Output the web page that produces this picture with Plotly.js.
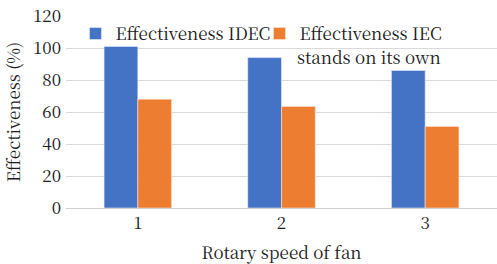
<!DOCTYPE html>
<html>
<head>
<meta charset="utf-8">
<script src="https://cdn.plot.ly/plotly-3.0.1.min.js"></script>
<style>html,body{margin:0;padding:0;background:#fff;}#chart{width:497px;height:264px;}</style>
</head>
<body>
<div id="chart"></div>
<script>
const categories = ["1", "2", "3"];
const idecValues = [101, 94, 86];
const iecValues = [68, 63.5, 51];
const seriesNames = ["Effectiveness IDEC", "Effectiveness IEC"];
const seriesNameContinuation = "stands on its own";
const yTicks = [0, 20, 40, 60, 80, 100, 120];

const font = "Noto Serif CJK SC, DejaVu Serif, serif";
const txt = "#1a1a1a";
const traces = [
  {type: "bar", x: categories, y: idecValues, name: seriesNames[0], legendwidth: 139,
   marker: {color: "#4472C4", line: {color: "#e8eef8", width: 0.6}}},
  {type: "bar", x: categories, y: iecValues, name: seriesNames[1],
   marker: {color: "#ED7D31", line: {color: "#fbe5d6", width: 0.6}}}
];
const layout = {
  width: 497, height: 264,
  margin: {l: 66, r: 0, t: 16, b: 56},
  paper_bgcolor: "#ffffff", plot_bgcolor: "#ffffff",
  font: {family: font, size: 17, color: txt},
  barmode: "group", bargap: 0.53, bargroupgap: 0,
  showlegend: true,
  legend: {orientation: "h", x: 0.022, y: 1.0, xanchor: "left", yanchor: "top",
           bgcolor: "rgba(0,0,0,0)", font: {family: font, size: 17, color: txt},
           itemwidth: 30, tracegroupgap: 0},
  annotations: [{text: seriesNameContinuation, xref: "paper", yref: "paper",
                 x: 0.531, y: 0.79, xanchor: "left", yanchor: "middle", showarrow: false,
                 font: {family: font, size: 17, color: txt}}],
  xaxis: {type: "category", showgrid: false, showline: false, ticks: "",
          tickfont: {family: font, size: 17, color: txt}, ticklabelstandoff: 3,
          title: {text: "Rotary speed of fan", font: {family: font, size: 17, color: txt}, standoff: 21}},
  yaxis: {range: [0, 120], tickvals: yTicks, showgrid: true, gridcolor: "#d9d9d9", gridwidth: 1,
          zeroline: true, zerolinecolor: "#d0d0d0", zerolinewidth: 1, showline: false, ticks: "",
          tickfont: {family: font, size: 17, color: txt}, ticklabelstandoff: 4,
          title: {text: "Effectiveness (%)", font: {family: font, size: 17, color: txt}, standoff: 8}}
};
Plotly.newPlot("chart", traces, layout, {displayModeBar: false, staticPlot: true});
</script>
</body>
</html>
